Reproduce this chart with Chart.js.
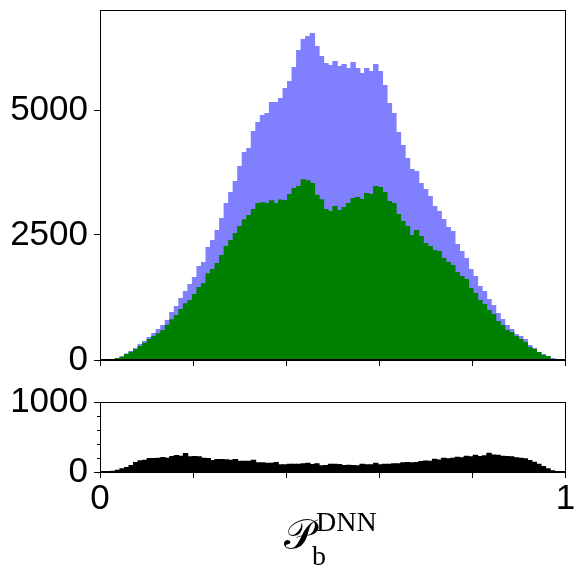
<!DOCTYPE html>
<html>
<head>
<meta charset="utf-8">
<script src="https://cdn.jsdelivr.net/npm/chart.js@4.4.1/dist/chart.umd.min.js"></script>
<style>
  html, body { margin: 0; padding: 0; background: #fff; }
  #wrap { position: relative; width: 585px; height: 571px; overflow: hidden; }
  canvas { position: absolute; left: 0; }
  #top { top: 0; }
  #bottom { top: 380px; }
</style>
</head>
<body>
<div id="wrap">
  <canvas id="top" width="585" height="380"></canvas>
  <canvas id="bottom" width="585" height="191"></canvas>
</div>
<script>
// histogram bin range (100 bins)
const binLo = 0.0135;
const binHi = 0.9865;
const nBins = 100;

// top panel: all (blue) and selected (green) counts per bin
const allCounts = [
  8, 20, 40, 75, 130,
  180, 240, 320, 380, 460, 540, 620, 700, 800, 960, 1080, 1240, 1380, 1520, 1660, 1880, 1960, 2260, 2400, 2600, 2840,
  3140, 3360, 3580, 3880, 4160, 4240, 4580, 4760, 4900, 4940, 5160, 5160, 5240, 5440, 5580, 5860, 6200, 6420, 6480, 6540, 6280, 6080, 5940, 5900, 5980,
  5880, 5920, 5840, 5960, 5840, 5740, 5840, 5780, 5920, 5780, 5500, 5140, 4940, 4560, 4300, 4040, 3820, 3780, 3540, 3420, 3280, 3080, 2980, 2820, 2660,
  2580, 2320, 2180, 2040, 1820, 1680, 1480, 1380, 1220, 1100, 940, 820, 700, 620, 520, 480, 420, 300, 240, 160, 120, 80, 40, 20
];
const selCounts = [
  8, 20, 40, 67, 120,
  167, 213, 280, 347, 420, 480, 533, 600, 707, 813, 900, 1020, 1133, 1200, 1320, 1460, 1540, 1733, 1820, 1940, 2100,
  2280, 2400, 2540, 2680, 2815, 2900, 3020, 3140, 3155, 3140, 3195, 3140, 3210, 3200, 3320, 3440, 3480, 3615, 3595, 3540, 3305, 3215, 3020, 2980, 3080,
  3000, 3060, 3140, 3240, 3260, 3220, 3340, 3320, 3480, 3460, 3360, 3180, 3140, 2920, 2780, 2680, 2500, 2600, 2480, 2340, 2280, 2200, 2180, 2040, 1960,
  1900, 1760, 1680, 1620, 1440, 1340, 1200, 1120, 1000, 920, 780, 700, 600, 560, 480, 420, 360, 260, 220, 160, 100, 80, 20, 20
];
// bottom panel counts
const lowCounts = [
  5, 19, 33, 52, 71, 100, 143, 167, 176, 200, 200, 205, 214, 205, 228, 243, 233, 271, 224, 228, 224, 205, 200, 171, 186, 186, 181, 176, 186, 162, 162, 162, 176,
  138, 138, 133, 133, 143, 110, 110, 119, 119, 119, 124, 133, 114, 124, 95, 100, 119, 119, 114, 100, 105, 100, 95, 119, 110, 110, 133, 110, 119, 119, 124, 124, 138, 143,
  140, 143, 157, 165, 162, 190, 180, 205, 195, 205, 219, 210, 233, 225, 248, 228, 238, 276, 250, 245, 233, 228, 224, 210, 205, 195, 171, 148, 119, 86, 52, 24, 14
];

const xTicks = [0, 0.2, 0.4, 0.6, 0.8, 1];
const xTickLabels = ["0", "", "", "", "", "1"];
const yTicksTop = [0, 2500, 5000];
const yTicksLow = [0, 1000];
const yMinorLow = [200, 400, 600, 800];

Chart.defaults.font.family = "'Liberation Sans', Arial, sans-serif";
Chart.defaults.font.size = 35;
Chart.defaults.color = "#000";

const binW = (binHi - binLo) / nBins;
const toPoints = (arr) => arr.map((v, i) => ({ x: binLo + (i + 0.5) * binW, y: v }));

const setTicks = (values) => (scale) => {
    scale.ticks = values.map((v) => ({ value: v }));
};

// fix an axis' size and drop the extra room Chart.js reserves for edge labels
const fixSize = (w, h) => (s) => {
    if (w !== null) s.width = w;
    if (h !== null) s.height = h;
    s.paddingTop = 0;
    s.paddingBottom = 0;
    s.paddingLeft = 0;
    s.paddingRight = 0;
};

// frame around the plot area (top and right spines)
const framePlugin = {
    id: "frame",
    afterDraw(chart) {
        const { ctx, chartArea: a } = chart;
        const l = Math.round(a.left) + 0.5, r = Math.round(a.right) - 0.5;
        const t = Math.round(a.top) + 0.5, b = Math.round(a.bottom) - 0.5;
        ctx.save();
        ctx.strokeStyle = "#000";
        ctx.lineWidth = 1;
        ctx.strokeRect(l, t, r - l, b - t);
        ctx.restore();
    },
};

const barDefaults = {
    borderWidth: 0,
    barPercentage: 1.2,
    categoryPercentage: 1,
    grouped: false,
};

const xAxis = (showLabels, height) => ({
    type: "linear",
    min: 0,
    max: 1,
    offset: false,
    afterBuildTicks: setTicks(xTicks),
    afterFit: fixSize(null, height),
    grid: { offset: false, drawOnChartArea: false, drawTicks: true, tickLength: 6, color: "#000" },
    border: { color: "#000", width: 1 },
    ticks: {
        display: showLabels,
        padding: 0,
        maxRotation: 0,
        autoSkip: false,
        callback: (v, i) => xTickLabels[i],
    },
});

// top panel
new Chart(document.getElementById("top"), {
    type: "bar",
    data: {
        datasets: [
            { ...barDefaults, label: "all", data: toPoints(allCounts), backgroundColor: "#8080ff", order: 2 },
            { ...barDefaults, label: "selected", data: toPoints(selCounts), backgroundColor: "#008000", order: 1 },
        ],
    },
    options: {
        responsive: false,
        animation: false,
        devicePixelRatio: 1,
        layout: { padding: { left: 0, right: 19.5, top: 10, bottom: 0 } },
        plugins: { legend: { display: false }, tooltip: { enabled: false } },
        scales: {
            x: xAxis(false, 20),
            y: {
                min: 0,
                max: 7000,
                afterBuildTicks: setTicks(yTicksTop),
                afterFit: fixSize(100, null),
                grid: { drawOnChartArea: false, drawTicks: true, tickLength: 6, color: "#000" },
                border: { color: "#000", width: 1 },
                ticks: { padding: 6, callback: (v) => String(v) },
            },
        },
    },
    plugins: [framePlugin],
});

// axis title drawn under the bottom panel
const titlePlugin = {
    id: "xtitle",
    afterDraw(chart) {
        const ctx = chart.ctx;
        ctx.save();
        ctx.fillStyle = "#000";
        ctx.textBaseline = "alphabetic";
        ctx.font = "42px 'DejaVu Sans', 'DejaVu Serif', 'Noto Sans', serif";
        ctx.fillText("\u{1D4AB}", 284, 169);
        ctx.font = "28px 'Liberation Serif', serif";
        ctx.fillText("DNN", 316, 151);
        ctx.fillText("b", 312, 185);
        ctx.restore();
    },
};

// bottom panel
new Chart(document.getElementById("bottom"), {
    type: "bar",
    data: {
        datasets: [
            { ...barDefaults, label: "low", data: toPoints(lowCounts), backgroundColor: "#000000" },
        ],
    },
    options: {
        responsive: false,
        animation: false,
        devicePixelRatio: 1,
        layout: { padding: { left: 0, right: 19.5, top: 22, bottom: 0 } },
        plugins: { legend: { display: false }, tooltip: { enabled: false } },
        scales: {
            x: xAxis(true, 99),
            y: {
                min: 0,
                max: 1000,
                weight: 1,
                afterBuildTicks: setTicks(yTicksLow),
                afterFit: fixSize(100, null),
                grid: { drawOnChartArea: false, drawTicks: true, tickLength: 6, color: "#000" },
                border: { color: "#000", width: 1 },
                ticks: { padding: 6, callback: (v) => String(v) },
            },
            yMinor: {
                type: "linear",
                position: "left",
                min: 0,
                max: 1000,
                weight: 0,
                afterBuildTicks: setTicks(yMinorLow),
                afterFit: fixSize(0, null),
                grid: { drawOnChartArea: false, drawTicks: true, tickLength: 3, color: "#000" },
                border: { display: false },
                ticks: { display: false },
            },
        },
    },
    plugins: [framePlugin, titlePlugin],
});
</script>
</body>
</html>
